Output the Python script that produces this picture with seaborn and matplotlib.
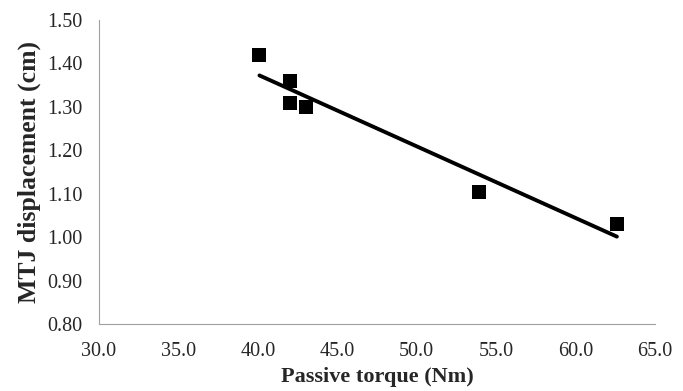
import pandas as pd
import seaborn as sns
import matplotlib.pyplot as plt

torque = [40.1, 42.0, 42.0, 43.0, 53.9, 62.6]
mtj_disp = [1.42, 1.36, 1.31, 1.30, 1.105, 1.03]
x_ticks = [30.0, 35.0, 40.0, 45.0, 50.0, 55.0, 60.0, 65.0]
y_ticks = [0.80, 0.90, 1.00, 1.10, 1.20, 1.30, 1.40, 1.50]

df = pd.DataFrame({"torque": torque, "disp": mtj_disp})

sns.set_style("white")
plt.rcParams['font.family'] = ['Liberation Serif', 'DejaVu Serif']

fig = plt.figure(figsize=(6.83, 3.91), dpi=100)
ax = fig.add_axes([0.145, 0.171, 0.814, 0.778])

sns.regplot(data=df, x="torque", y="disp", ax=ax, ci=None,
            marker="s", color="black",
            scatter_kws={"s": 105, "linewidths": 0, "alpha": 1},
            line_kws={"linewidth": 2.8})

ax.set_xlim(30, 65)
ax.set_ylim(0.80, 1.50)
ax.set_xticks(x_ticks)
ax.set_yticks(y_ticks)
ax.set_xticklabels([f"{v:.1f}" for v in x_ticks])
ax.set_yticklabels([f"{v:.2f}" for v in y_ticks])
ax.tick_params(axis="both", labelsize=14.5, direction="out", length=4,
               color="#a0a0a0", width=0.8)
ax.tick_params(axis="x", pad=9)
ax.tick_params(axis="y", pad=8)
for side in ["top", "right"]:
    ax.spines[side].set_visible(False)
for side in ["left", "bottom"]:
    ax.spines[side].set_color("#a0a0a0")
    ax.spines[side].set_linewidth(0.8)

ax.set_xlabel("Passive torque (Nm)", fontsize=16, fontweight="bold", labelpad=4)
ax.set_ylabel("MTJ displacement (cm)", fontsize=18.5, fontweight="bold", labelpad=4)

fig.savefig("out.png", dpi=100)
